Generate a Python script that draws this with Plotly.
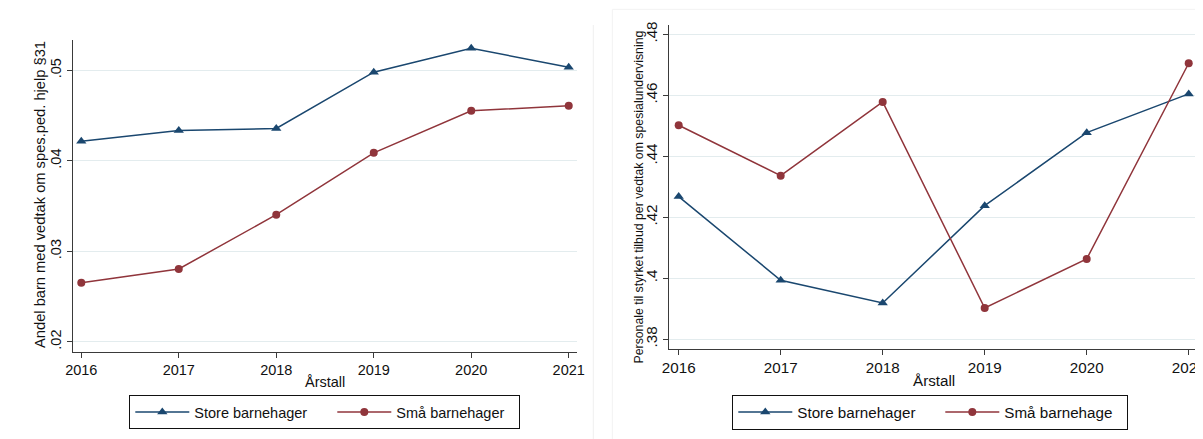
import plotly.graph_objects as go

# page body has an 8px default margin; figure is placed at (8, 8) in the window
OX, OY = 8, 8
W, H = 1195, 431

years = [2016, 2017, 2018, 2019, 2020, 2021]

# Left panel: share of children with decision on special-ed help (§31)
left_store = [0.04217, 0.04335, 0.04357, 0.04979, 0.05244, 0.05034]
left_sma = [0.02653, 0.02804, 0.03404, 0.04088, 0.04552, 0.04608]
left_ticks = [0.02, 0.03, 0.04, 0.05]
left_ticktext = [".02", ".03", ".04", ".05"]

# Right panel: staff per decision
right_store = [0.42677, 0.39934, 0.39189, 0.42381, 0.44775, 0.46046]
right_sma = [0.45018, 0.43363, 0.45783, 0.39025, 0.40634, 0.47051]
right_ticks = [0.38, 0.40, 0.42, 0.44, 0.46, 0.48]
right_ticktext = [".38", ".4", ".42", ".44", ".46", ".48"]

left_ytitle = "Andel barn med vedtak om spes.ped. hjelp §31"
right_ytitle = "Personale til styrket tilbud per vedtak om spesialundervisning"
xtitle = "Årstall"
names_left = ["Store barnehager", "Små barnehager"]
names_right = ["Store barnehager", "Små barnehage"]

NAVY = "#1a476f"
MAROON = "#90353b"
GRID = "#e3ecee"
AXIS = "#3a3a3a"
FONT = "Liberation Sans, Arial, sans-serif"


def px(x):
    return (x - OX) / W


def py(y):
    return 1 - (y - OY) / H


fig = go.Figure()

fig.add_trace(go.Scatter(x=years, y=left_store, name=names_left[0], mode="lines+markers",
                         line=dict(color=NAVY, width=1.5),
                         marker=dict(symbol="triangle-up", size=9, color=NAVY),
                         xaxis="x", yaxis="y", legend="legend", legendwidth=133))
fig.add_trace(go.Scatter(x=years, y=left_sma, name=names_left[1], mode="lines+markers",
                         line=dict(color=MAROON, width=1.5),
                         marker=dict(symbol="circle", size=8, color=MAROON),
                         xaxis="x", yaxis="y", legend="legend", legendwidth=118))
fig.add_trace(go.Scatter(x=years, y=right_store, name=names_right[0], mode="lines+markers",
                         line=dict(color=NAVY, width=1.5),
                         marker=dict(symbol="triangle-up", size=9, color=NAVY),
                         xaxis="x2", yaxis="y2", legend="legend2", legendwidth=138))
fig.add_trace(go.Scatter(x=years, y=right_sma, name=names_right[1], mode="lines+markers",
                         line=dict(color=MAROON, width=1.5),
                         marker=dict(symbol="circle", size=8, color=MAROON),
                         xaxis="x2", yaxis="y2", legend="legend2", legendwidth=118))

common_x = dict(tickmode="array", tickvals=years, ticktext=[str(y) for y in years],
                showgrid=False, zeroline=False, showline=True, linecolor=AXIS, linewidth=1.2,
                ticks="outside", ticklen=5, tickcolor=AXIS, tickwidth=1.2, automargin=False,
                ticklabeloverflow="allow")
common_y = dict(tickmode="array", showgrid=True, gridcolor=GRID, gridwidth=1.2,
                zeroline=False, showline=True, linecolor=AXIS, linewidth=1.2,
                ticks="outside", ticklen=5, tickcolor=AXIS, tickwidth=1.2,
                tickangle=-90, automargin=False)

fig.update_layout(
    width=W, height=H,
    margin=dict(l=0, r=0, t=0, b=0),
    paper_bgcolor="white", plot_bgcolor="white",
    font=dict(family=FONT, color="#111111", size=14.5),
    xaxis=dict(domain=[px(73.3), px(577.3)], range=[2015.918, 2021.088], anchor="y",
               tickfont=dict(size=14.5), **common_x),
    yaxis=dict(domain=[py(351.7), py(40)], range=[0.01890, 0.05335], anchor="x",
               tickvals=left_ticks, ticktext=left_ticktext, tickfont=dict(size=14.5), **common_y),
    xaxis2=dict(domain=[px(669), px(1198.3)], range=[2015.905, 2021.094], anchor="y2",
                tickfont=dict(size=15.2), **common_x),
    yaxis2=dict(domain=[py(349), py(25)], range=[0.3768, 0.48305], anchor="x2",
                tickvals=right_ticks, ticktext=right_ticktext, tickfont=dict(size=15.2), **common_y),
    legend=dict(orientation="h", x=px(129.3), y=py(412), xanchor="left", yanchor="middle",
                bordercolor="#111111", borderwidth=1, bgcolor="white", itemwidth=54,
                font=dict(size=14.5), traceorder="normal"),
    legend2=dict(orientation="h", x=px(732.3), y=py(412), xanchor="left", yanchor="middle",
                 bordercolor="#111111", borderwidth=1, bgcolor="white", itemwidth=54,
                 font=dict(size=15.2), traceorder="normal"),
    showlegend=True,
)

annotations = [
    dict(text=xtitle, x=px(325.3), y=py(381.7), xref="paper", yref="paper",
         showarrow=False, font=dict(size=14.5), xanchor="center", yanchor="middle"),
    dict(text=xtitle, x=px(934), y=py(380.5), xref="paper", yref="paper",
         showarrow=False, font=dict(size=15.2), xanchor="center", yanchor="middle"),
    dict(text=left_ytitle, x=px(40), y=py(195), xref="paper", yref="paper",
         showarrow=False, font=dict(size=14.7), textangle=-90, xanchor="center", yanchor="middle"),
    dict(text=right_ytitle, x=px(638), y=py(197.5), xref="paper", yref="paper",
         showarrow=False, font=dict(size=12.3), textangle=-90, xanchor="center", yanchor="middle"),
]
fig.update_layout(annotations=annotations)

shapes = [
    dict(type="line", xref="paper", yref="paper", x0=px(593.3), x1=px(593.3), y0=py(25), y1=0,
         line=dict(color="#efefef", width=1)),
    dict(type="line", xref="paper", yref="paper", x0=px(612.3), x1=px(612.3), y0=py(9.3), y1=0,
         line=dict(color="#f2f2f2", width=1)),
    dict(type="line", xref="paper", yref="paper", x0=px(612.3), x1=1, y0=py(9.3), y1=py(9.3),
         line=dict(color="#f2f2f2", width=1)),
]
fig.update_layout(shapes=shapes)

fig.write_html("out.html")
